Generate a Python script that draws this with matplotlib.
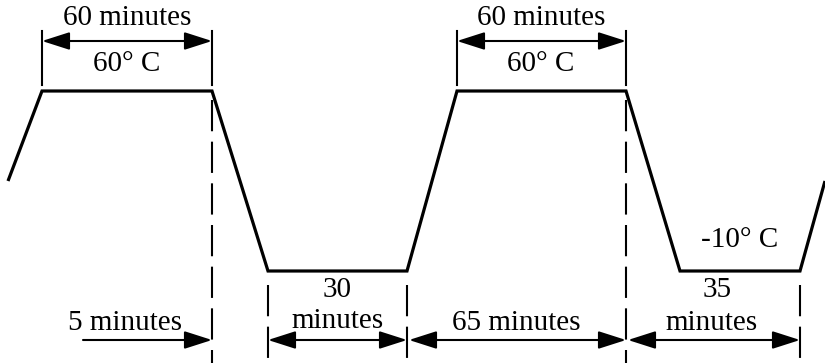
import matplotlib
matplotlib.use('Agg')
import matplotlib.pyplot as plt

# temperature profile (schematic x positions, temperatures in deg C)
profile_x = [8, 42, 212, 268, 407, 457, 626, 680, 800, 825]
profile_temp = [25, 60, 60, -10, -10, 60, 60, -10, -10, 25]

T_HIGH, T_LOW = 60, -10
Y_HIGH, Y_LOW = 91, 271  # canvas rows for the two temperature levels

FONT = 'Liberation Serif'
FS = 21


def temp_to_y(t):
    return Y_HIGH + (T_HIGH - t) * (Y_LOW - Y_HIGH) / (T_HIGH - T_LOW)


def dim_arrow(ax, x0, x1, y, style='<|-|>'):
    ax.annotate('', xy=(x1, y), xytext=(x0, y),
                arrowprops=dict(arrowstyle=style + ',head_length=1.0,head_width=0.32',
                                mutation_scale=17, color='black', lw=1.5,
                                shrinkA=0, shrinkB=0))


fig = plt.figure(figsize=(8.25, 3.63), dpi=100)
ax = fig.add_axes([0, 0, 1, 1])
ax.set_xlim(0, 825)
ax.set_ylim(363, 0)
ax.axis('off')

# profile
ax.plot(profile_x, [temp_to_y(t) for t in profile_temp], color='black', lw=2.3,
        solid_joinstyle='miter', solid_capstyle='butt')

dash = (0, (15, 5))
# extension lines above the hot plateaus
for x in [42, 212, 457, 626]:
    ax.plot([x, x], [31, 85], color='black', lw=1.5)
# dashed lines below the corners
for x in [212, 626]:
    ax.plot([x, x], [100, 363], color='black', lw=1.5, linestyle=dash)
for x in [268, 407, 800]:
    ax.plot([x, x], [285, 360], color='black', lw=1.5, linestyle=dash)

# top dimensions
dim_arrow(ax, 42, 212, 41)
dim_arrow(ax, 457, 626, 41)
for cx in [127, 541]:
    ax.text(cx, 18, '60 minutes', ha='center', va='center', fontsize=FS, family=FONT)
    ax.text(cx, 64, '60° C', ha='center', va='center', fontsize=FS, family=FONT)

# bottom dimensions
dim_arrow(ax, 83, 212, 340, style='-|>')
dim_arrow(ax, 268, 407, 340)
dim_arrow(ax, 409, 626, 340)
dim_arrow(ax, 628, 800, 340)

ax.text(125, 323, '5 minutes', ha='center', va='center', fontsize=FS, family=FONT)
ax.text(337, 290, '30', ha='center', va='center', fontsize=FS, family=FONT)
ax.text(337, 321, 'minutes', ha='center', va='center', fontsize=FS, family=FONT)
ax.text(516, 323, '65 minutes', ha='center', va='center', fontsize=FS, family=FONT)
ax.text(717, 290, '35', ha='center', va='center', fontsize=FS, family=FONT)
ax.text(712, 323, 'minutes', ha='center', va='center', fontsize=FS, family=FONT)
ax.text(740, 240, '-10° C', ha='center', va='center', fontsize=FS, family=FONT)

fig.savefig('out.png', dpi=100, facecolor='white')
